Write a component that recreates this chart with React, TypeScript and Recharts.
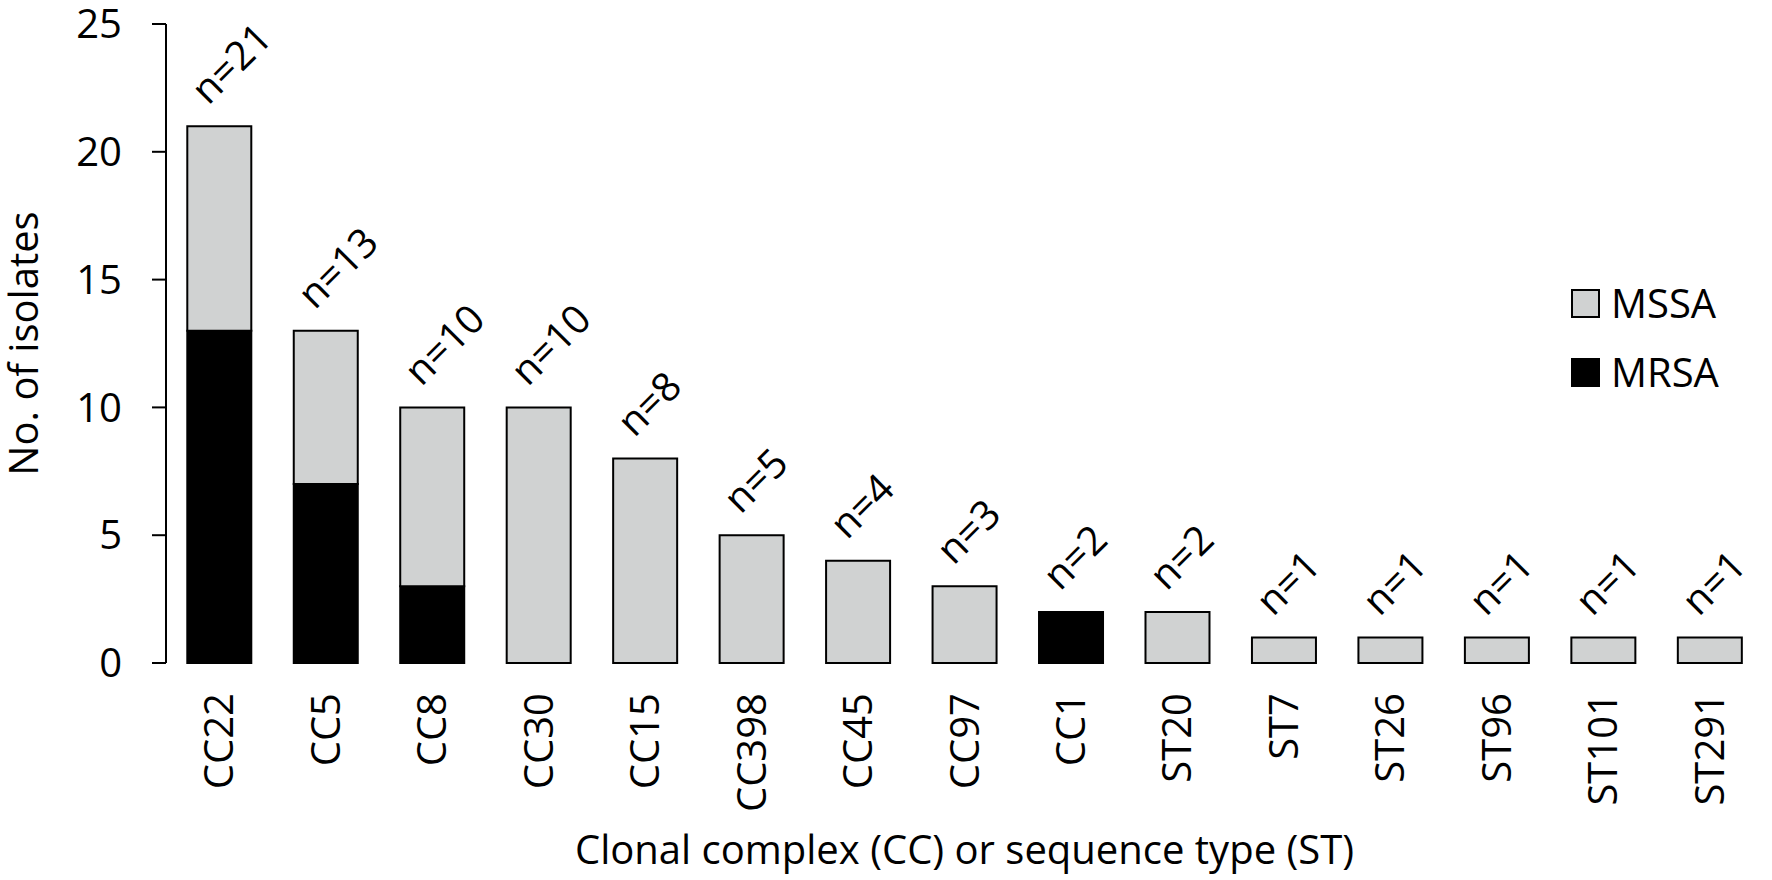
import React from 'react';
import { BarChart, Bar, XAxis, YAxis, Legend, LabelList, Label } from 'recharts';

const categories = ['CC22', 'CC5', 'CC8', 'CC30', 'CC15', 'CC398', 'CC45', 'CC97', 'CC1', 'ST20', 'ST7', 'ST26', 'ST96', 'ST101', 'ST291'];
const mrsaCounts = [13, 7, 3, 0, 0, 0, 0, 0, 2, 0, 0, 0, 0, 0, 0];
const mssaCounts = [8, 6, 7, 10, 8, 5, 4, 3, 0, 2, 1, 1, 1, 1, 1];
const yTicks = [0, 5, 10, 15, 20, 25];
const edgeTicks = [0, 1, 2, 3, 4, 5, 6, 7, 8, 9, 10, 11, 12, 13, 14, 15];

const FONT = "'Open Sans', sans-serif";
const GREY = '#d0d2d2';

const data = categories.map((name, i) => ({
  name,
  MRSA: mrsaCounts[i],
  MSSA: mssaCounts[i],
  total: mrsaCounts[i] + mssaCounts[i],
}));

const rowOf = (name: string) => data.find((d) => d.name === name);

const CatTick = (props: any) => {
  const { x, y, payload } = props;
  return (
    <text x={x} y={y} dy="0.35em" textAnchor="end" fill="#000" fontSize={40} fontFamily={FONT}
      transform={`rotate(-90 ${x} ${y})`}>
      {payload.value}
    </text>
  );
};

// "n=" total above the top segment of each stack
const makeNLabel = (series: 'MRSA' | 'MSSA') => (props: any) => {
  const { x, y, width, value } = props;
  const row = rowOf(value);
  if (!row) return null;
  // the MRSA segment only carries the label when nothing is stacked on it
  if (series === 'MRSA' && row.MSSA > 0) return null;
  if (series === 'MSSA' && row.MSSA === 0) return null;
  const cx = x + width / 2 - 11;
  const cy = y - 20;
  return (
    <text x={cx} y={cy} textAnchor="start" fill="#000" fontSize={40} fontFamily={FONT}
      transform={`rotate(-45 ${cx} ${cy})`}>
      {`n=${row.total}`}
    </text>
  );
};

const XTitle = (props: any) => {
  const { x, y, width, height } = props.viewBox;
  return (
    <text x={x + width / 2} y={y + height - 16} textAnchor="middle" fill="#000" fontSize={40} fontFamily={FONT}>
      Clonal complex (CC) or sequence type (ST)
    </text>
  );
};

const YTitle = (props: any) => {
  const { x, y, height } = props.viewBox;
  const cx = x + 24;
  const cy = y + height / 2;
  return (
    <text x={cx} y={cy} dy="0.35em" textAnchor="middle" fill="#000" fontSize={40} fontFamily={FONT}
      transform={`rotate(-90 ${cx} ${cy})`}>
      No. of isolates
    </text>
  );
};

const LegendBox = (props: any) => {
  const items = [...(props.payload || [])].reverse();
  return (
    <svg width={200} height={140} style={{ overflow: 'visible' }}>
      {items.map((item: any, i: number) => (
        <g key={item.value}>
          <rect x={1} y={20 + i * 69} width={27} height={27} fill={item.color} stroke="#000" strokeWidth={2} />
          <text x={40} y={48 + i * 69} fill="#000" fontSize={40} fontFamily={FONT}>{item.value}</text>
        </g>
      ))}
    </svg>
  );
};

export default function App() {
  return (
    <div style={{ width: 1772, height: 880 }}>
      <style>{'body{margin:0}'}</style>
      <BarChart width={1772} height={880} data={data} barCategoryGap="20%"
        margin={{ top: 24, right: 9, bottom: 0, left: 0 }}>
        <XAxis xAxisId="edge" type="number" domain={[0, 15]} ticks={edgeTicks} tick={false} tickSize={15}
          height={0} allowDataOverflow axisLine={{ stroke: '#000', strokeWidth: 2 }}
          tickLine={{ stroke: '#000', strokeWidth: 2 }} />
        <XAxis xAxisId="cat" dataKey="name" height={217} axisLine={false} tickLine={false}
          tickSize={15} tickMargin={15} interval={0} tick={<CatTick />}>
          <Label content={<XTitle />} />
        </XAxis>
        <YAxis width={166} domain={[0, 25]} ticks={yTicks} tickSize={14} tickMargin={30}
          axisLine={{ stroke: '#000', strokeWidth: 2 }} tickLine={{ stroke: '#000', strokeWidth: 2 }}
          tick={{ fill: '#000', fontSize: 40, fontFamily: FONT }}>
          <Label content={<YTitle />} />
        </YAxis>
        <Legend layout="vertical" align="center" verticalAlign="middle" content={<LegendBox />}
          wrapperStyle={{ position: 'absolute', left: 1571, top: 270, width: 200, height: 140 }} />
        <Bar xAxisId="cat" dataKey="MRSA" stackId="a" fill="#000" stroke="#000" strokeWidth={2}
          isAnimationActive={false}>
          <LabelList dataKey="name" content={makeNLabel('MRSA')} />
        </Bar>
        <Bar xAxisId="cat" dataKey="MSSA" stackId="a" fill={GREY} stroke="#000" strokeWidth={2}
          isAnimationActive={false}>
          <LabelList dataKey="name" content={makeNLabel('MSSA')} />
        </Bar>
      </BarChart>
    </div>
  );
}
